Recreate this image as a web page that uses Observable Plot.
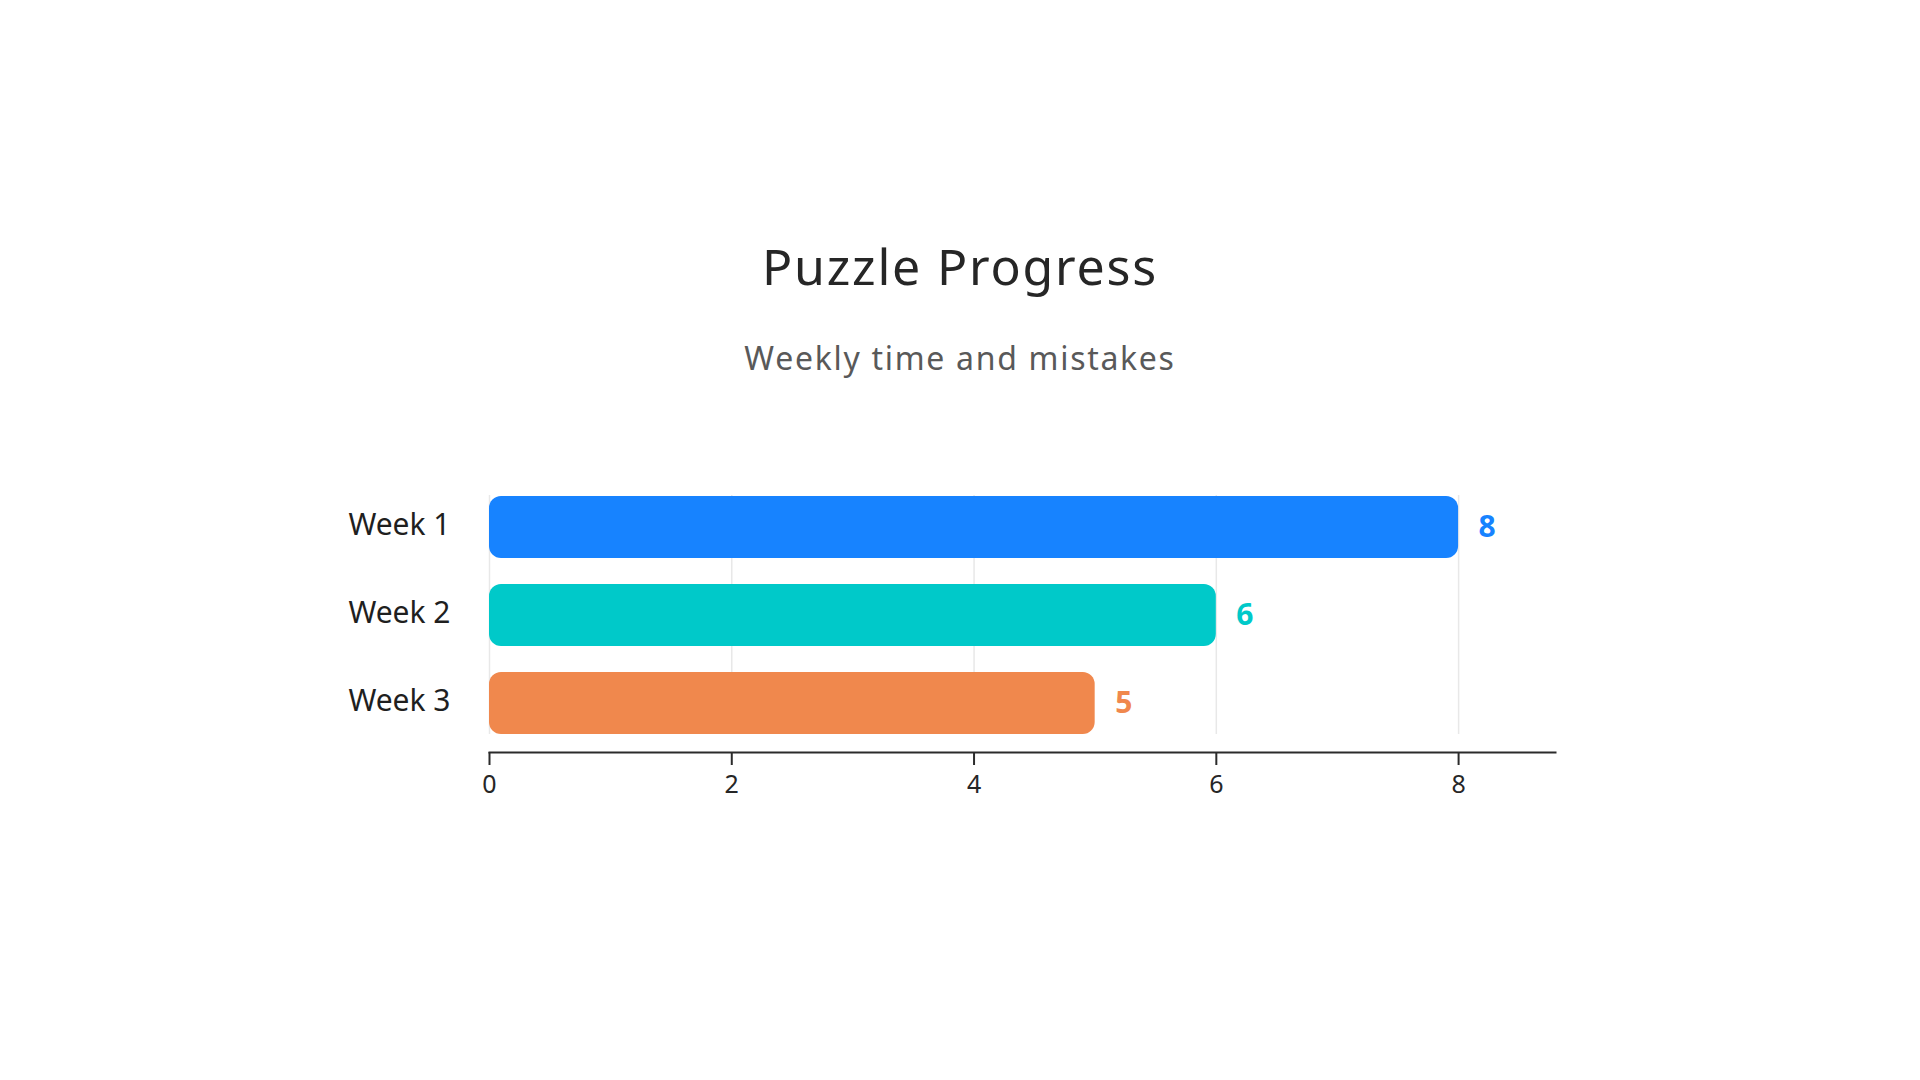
<!DOCTYPE html>
<html>
<head>
<meta charset="utf-8">
<script src="https://cdn.jsdelivr.net/npm/d3@7"></script>
<script src="https://cdn.jsdelivr.net/npm/@observablehq/plot@0.6"></script>
<style>
  html, body { margin: 0; padding: 0; background: #fff; }
  body { width: 1920px; height: 1080px; position: relative; overflow: hidden; font-family: "Noto Sans", sans-serif; }
  #title { position: absolute; left: 0; width: 1920px; top: 241px; text-align: center; font-size: 50px; line-height: 50px; color: #262626; letter-spacing: 1.8px; }
  #subtitle { position: absolute; left: 0; width: 1920px; top: 342px; text-align: center; font-size: 32px; line-height: 32px; color: #595959; letter-spacing: 1.7px; }
  #chart { position: absolute; left: 0; top: 400px; }
</style>
</head>
<body>
<div id="title">Puzzle Progress</div>
<div id="subtitle">Weekly time and mistakes</div>
<div id="chart"></div>
<script>
const weeks = ["Week 1", "Week 2", "Week 3"];
const values = [8, 6, 5];
const colors = ["#1783FF", "#00C9C9", "#F0884D"];
const xTicks = [0, 2, 4, 6, 8];
const xMax = 8.8;

const data = weeks.map((w, i) => ({week: w, value: values[i]}));

const chart = Plot.plot({
  width: 1920,
  height: 412,
  marginTop: 95,
  marginBottom: 60,
  marginLeft: 489,
  marginRight: 365,
  style: {fontFamily: "'Noto Sans', sans-serif", background: "transparent"},
  x: {domain: [0, xMax], ticks: xTicks},
  y: {domain: weeks, paddingInner: 0.3, paddingOuter: 0, insetBottom: 18},
  color: {domain: weeks, range: colors},
  marks: [
    Plot.gridX(xTicks, {stroke: "#e8e8e8", strokeOpacity: 1, strokeWidth: 1.5, insetBottom: 18}),
    Plot.barX(data, {y: "week", x: "value", fill: "week", rx: 12}),
    Plot.text(data, {y: "week", x: "value", text: d => String(d.value), fill: "week", textAnchor: "start", dx: 20, fontSize: 30, fontWeight: "bold"}),
    Plot.axisY({tickSize: 0, tickPadding: 39, fontSize: 30, fill: "#1f1f1f", label: null, dy: -2}),
    Plot.axisX({ticks: xTicks, tickSize: 13, tickPadding: 10, fontSize: 25, fill: "#262626", stroke: "#2b2b2b", strokeWidth: 2, label: null}),
    Plot.frame({anchor: "bottom", stroke: "#2b2b2b", strokeWidth: 2})
  ]
});
document.getElementById("chart").appendChild(chart);
</script>
</body>
</html>
